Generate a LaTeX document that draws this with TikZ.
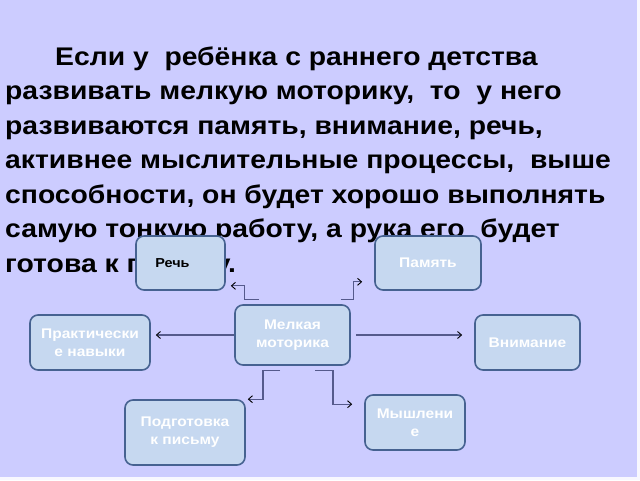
\documentclass[tikz,border=0pt]{standalone}
\usepackage{fontspec}
\setmainfont{Liberation Sans}[FakeStretch=1.11]
\usetikzlibrary{positioning, arrows.meta}

\definecolor{slide}{RGB}{204,204,255}
\definecolor{boxfill}{RGB}{198,216,240}
\definecolor{boxline}{RGB}{70,98,145}
\definecolor{linkline}{RGB}{85,90,140}

\tikzset{
  idea/.style={draw=boxline, line width=1.6pt, fill=boxfill, rounded corners=8pt,
    text=white, font=\fontsize{14}{18}\selectfont\bfseries, align=center, inner sep=0pt},
  link/.style={draw=linkline, line width=1.1pt,
    -{Straight Barb[length=4pt, width=7pt, line width=0.9pt, color=black]}}
}

\begin{document}
\begin{tikzpicture}[x=1pt, y=-1pt]
  \useasboundingbox (0,0) rectangle (640,480);
  \fill[white!85!slide] (0,0) rectangle (640,480);
  \fill[slide] (0,0) rectangle (637,477);

  % main text (base = last line)
  \node[anchor=base west, align=left, inner sep=0pt,
        font=\fontsize{25.5}{34.5}\selectfont\bfseries] (txt) at (5,272)
    {\hspace*{50pt}Если у \ ребёнка с раннего детства\\
     развивать мелкую моторику, \ то \ у него\\
     развиваются память, внимание, речь,\\
     активнее мыслительные процессы, \ выше\\
     способности, он будет хорошо выполнять\\
     самую тонкую работу, а рука его \ будет\\
     готова к письму.};

  % boxes
  \node[idea, minimum width=89pt, minimum height=54pt, text=black,
        font=\fontsize{13}{17}\selectfont\bfseries] (rech) at (180.5,263) {Речь\hspace*{16pt}};
  \node[idea, minimum width=106pt, minimum height=54pt] (pamyat) at (428,263) {Память};
  \node[idea, minimum width=115pt, minimum height=60pt] (motor) at (292.5,335) {Мелкая\\моторика};
  \node[idea, minimum width=120pt, minimum height=55pt] (prakt) at (90,342.5) {Практически\\е навыки};
  \node[idea, minimum width=105pt, minimum height=55pt] (vnim) at (527.5,342.5) {Внимание};
  \node[idea, minimum width=120pt, minimum height=65pt] (podg) at (185,432.5) {Подготовка\\к письму};
  \node[idea, minimum width=100pt, minimum height=55pt] (mysh) at (415,422.5) {Мышлени\\е};

  % links
  \draw[link] ([xshift=25pt,yshift=5pt]motor.north west) -- ++(-15,0)
    |- ([xshift=5pt,yshift=5pt]rech.south east);
  \draw[link] ([xshift=-10pt,yshift=5pt]motor.north east) -- ++(13,0)
    |- ([xshift=-12pt,yshift=9pt]pamyat.south west);
  \coordinate (prakt-end) at ([xshift=5pt]prakt.east |- motor.west);
  \draw[link] (motor.west) -- (prakt-end);
  \coordinate (vnim-end) at ([xshift=-12pt]vnim.west |- motor.east);
  \draw[link] ([xshift=5pt]motor.east) -- (vnim-end);
  \draw[link] ([xshift=-12.5pt,yshift=-5pt]motor.south) -- ++(-17,0)
    |- ([xshift=2pt]podg.north east);
  \draw[link] ([xshift=22.5pt,yshift=-5pt]motor.south) -- ++(18,0)
    |- ([xshift=-12pt,yshift=-10pt]mysh.north west);
\end{tikzpicture}
\end{document}
